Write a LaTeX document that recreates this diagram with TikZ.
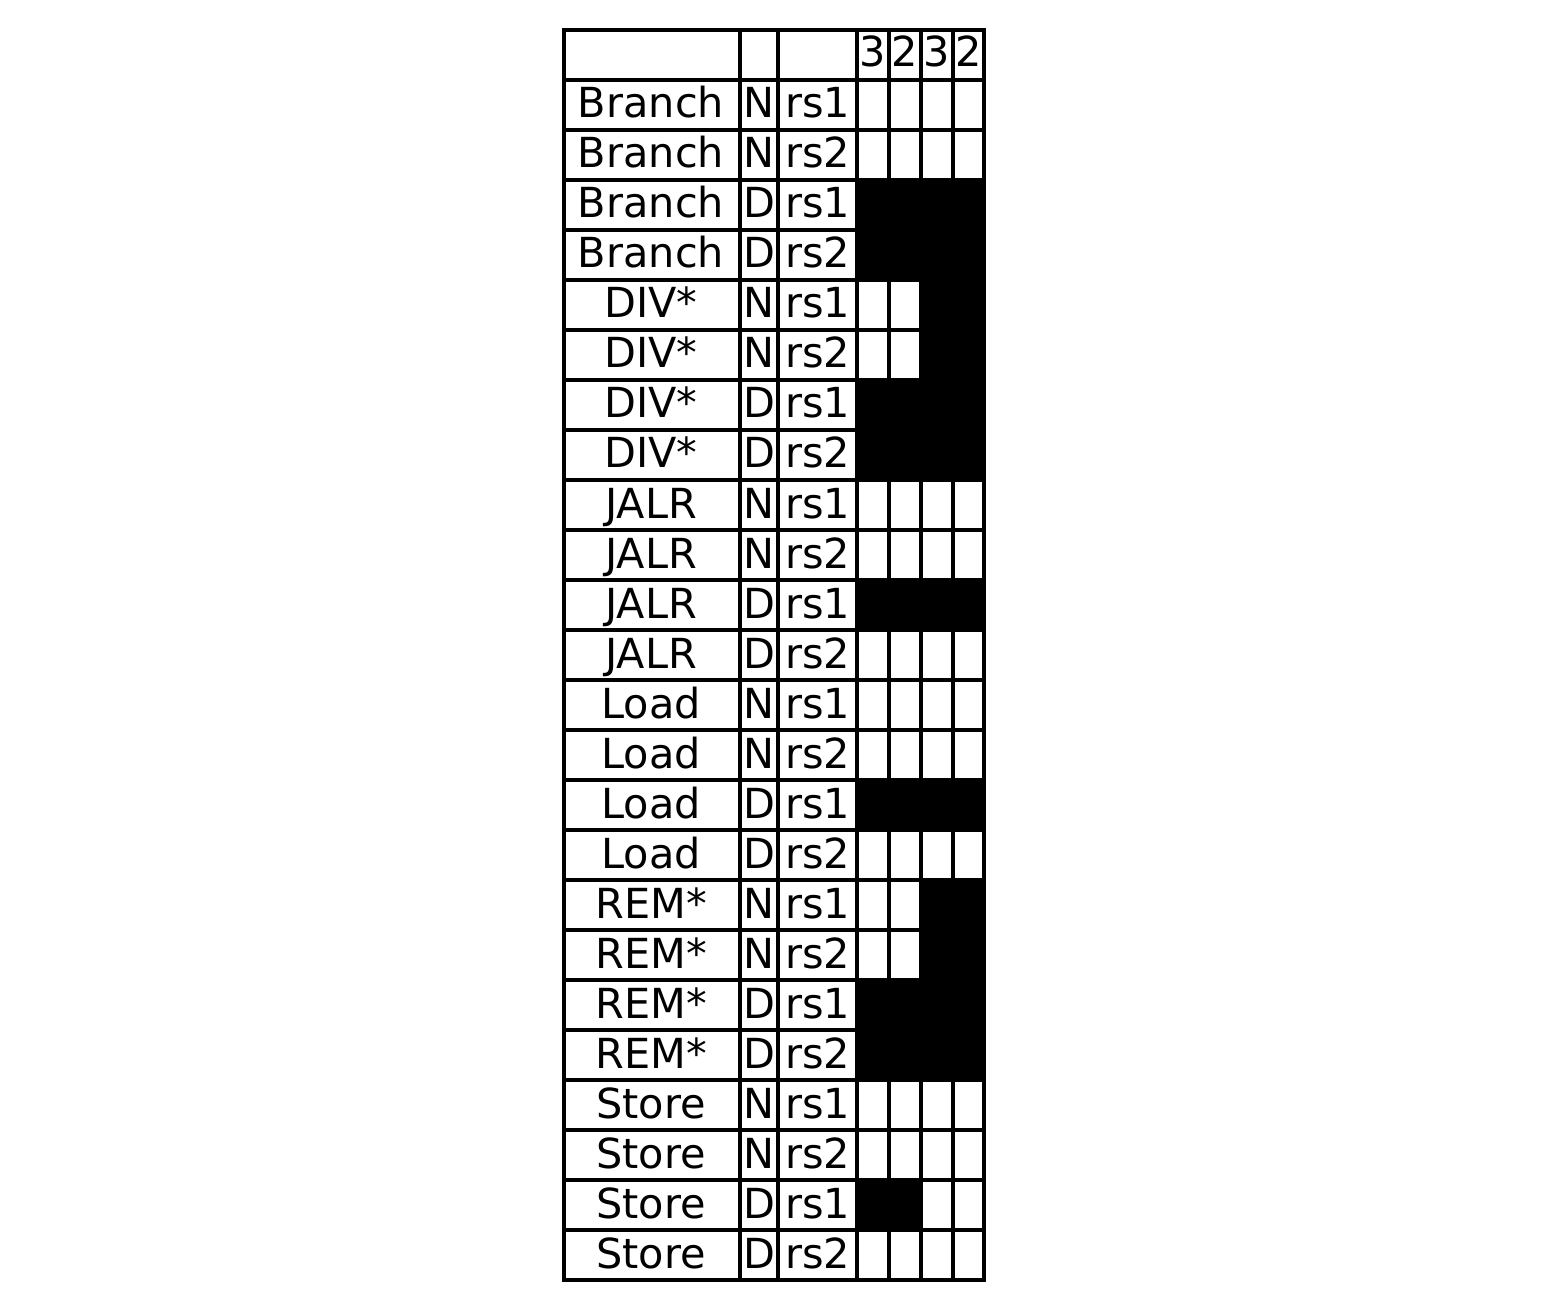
\documentclass[tikz,border=0pt]{standalone}
\usepackage{fontspec}
\setmainfont{DejaVu Sans}
\tikzset{lbl/.style={anchor=base, inner sep=0pt, font=\fontsize{20.7}{25}\selectfont}}

\begin{document}
\begin{tikzpicture}[x=0.5pt,y=-0.5pt,line width=1.75pt]
    \useasboundingbox (0,0) rectangle (1548,1310);
    % dark cells
    \foreach \i in {3,4,7,8,11,15,19,20}
        \fill (857,30+50*\i) rectangle (984,80+50*\i);
    \foreach \i in {5,6,17,18}
        \fill (921,30+50*\i) rectangle (984,80+50*\i);
    \fill (857,1180) rectangle (921,1230);
    % grid
    \draw (564,30) rectangle (984,1280);
    \foreach \y in {80,130,...,1230}
        \draw (564,\y) -- (984,\y);
    \foreach \x in {740,778,857,889,921,953}
        \draw (\x,30) -- (\x,1280);
    % header
    \foreach \x/\t [count=\j] in {873/3,905/2,937/3,968.5/2}
        \node[lbl] (h\j) at (\x,67) {\t};
    % rows
    \foreach \n/\k/\r [count=\i] in {Branch/N/rs1,Branch/N/rs2,Branch/D/rs1,Branch/D/rs2,
        DIV*/N/rs1,DIV*/N/rs2,DIV*/D/rs1,DIV*/D/rs2,
        JALR/N/rs1,JALR/N/rs2,JALR/D/rs1,JALR/D/rs2,
        Load/N/rs1,Load/N/rs2,Load/D/rs1,Load/D/rs2,
        REM*/N/rs1,REM*/N/rs2,REM*/D/rs1,REM*/D/rs2,
        Store/N/rs1,Store/N/rs2,Store/D/rs1,Store/D/rs2} {
        \node[lbl] (op\i) at (651,68+50*\i) {\n};
        \node[lbl] (kind\i) at (759,68+50*\i) {\k};
        \node[lbl] (reg\i) at (817.5,68+50*\i) {\r};
    }
\end{tikzpicture}
\end{document}
